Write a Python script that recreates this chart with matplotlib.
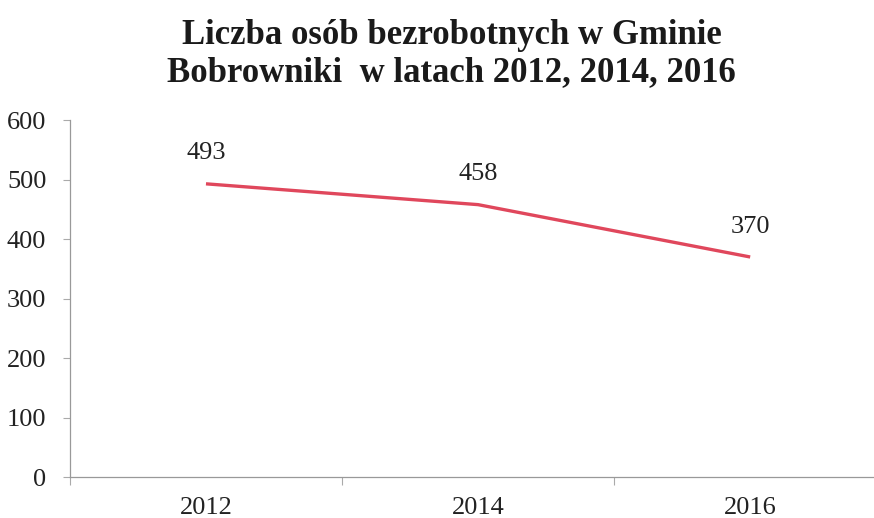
import matplotlib.pyplot as plt
from matplotlib.ticker import FixedLocator, NullFormatter

# dane
lata = ["2012", "2014", "2016"]
bezrobotni = [493, 458, 370]
y_ticks = [0, 100, 200, 300, 400, 500, 600]

plt.rcParams['font.family'] = ['Liberation Serif', 'DejaVu Serif']

fig = plt.figure(figsize=(8.74, 5.18), dpi=100)
# os X wychodzi poza prawą krawędź, tak jak na skanie
ax = fig.add_axes([0.080, 0.079, 0.934, 0.689])

x = list(range(len(lata)))
ax.plot(x, bezrobotni, color='#e0475c', linewidth=2.4, solid_capstyle='butt')

for xi, v in zip(x, bezrobotni):
    ax.annotate(str(v), (xi, v), xytext=(0, 14), textcoords='offset points',
                ha='center', va='bottom', fontsize=19, color='#222222')

ax.set_xlim(-0.5, len(lata) - 0.5)
ax.set_ylim(0, 600)
ax.set_yticks(y_ticks)
ax.set_xticks(x)
ax.set_xticklabels(lata)
ax.xaxis.set_minor_locator(FixedLocator([-0.5, 0.5, 1.5]))
ax.xaxis.set_minor_formatter(NullFormatter())
ax.tick_params(axis='x', which='major', length=0, pad=14, labelsize=19, labelcolor='#222222')
ax.tick_params(axis='x', which='minor', length=6, direction='out', color='#aaaaaa', width=0.8)
ax.tick_params(axis='y', length=5, direction='out', color='#aaaaaa', width=0.8,
               pad=12, labelsize=19, labelcolor='#222222')

for s in ['top', 'right']:
    ax.spines[s].set_visible(False)
for s in ['left', 'bottom']:
    ax.spines[s].set_color('#999999')
    ax.spines[s].set_linewidth(0.9)

fig.text(0.517, 0.896, "Liczba osób bezrobotnych w Gminie\nBobrowniki  w latach 2012, 2014, 2016",
         ha='center', va='center', fontsize=25, fontweight='bold', color='#1a1a1a',
         linespacing=1.15)

fig.savefig('out.png', dpi=100)
